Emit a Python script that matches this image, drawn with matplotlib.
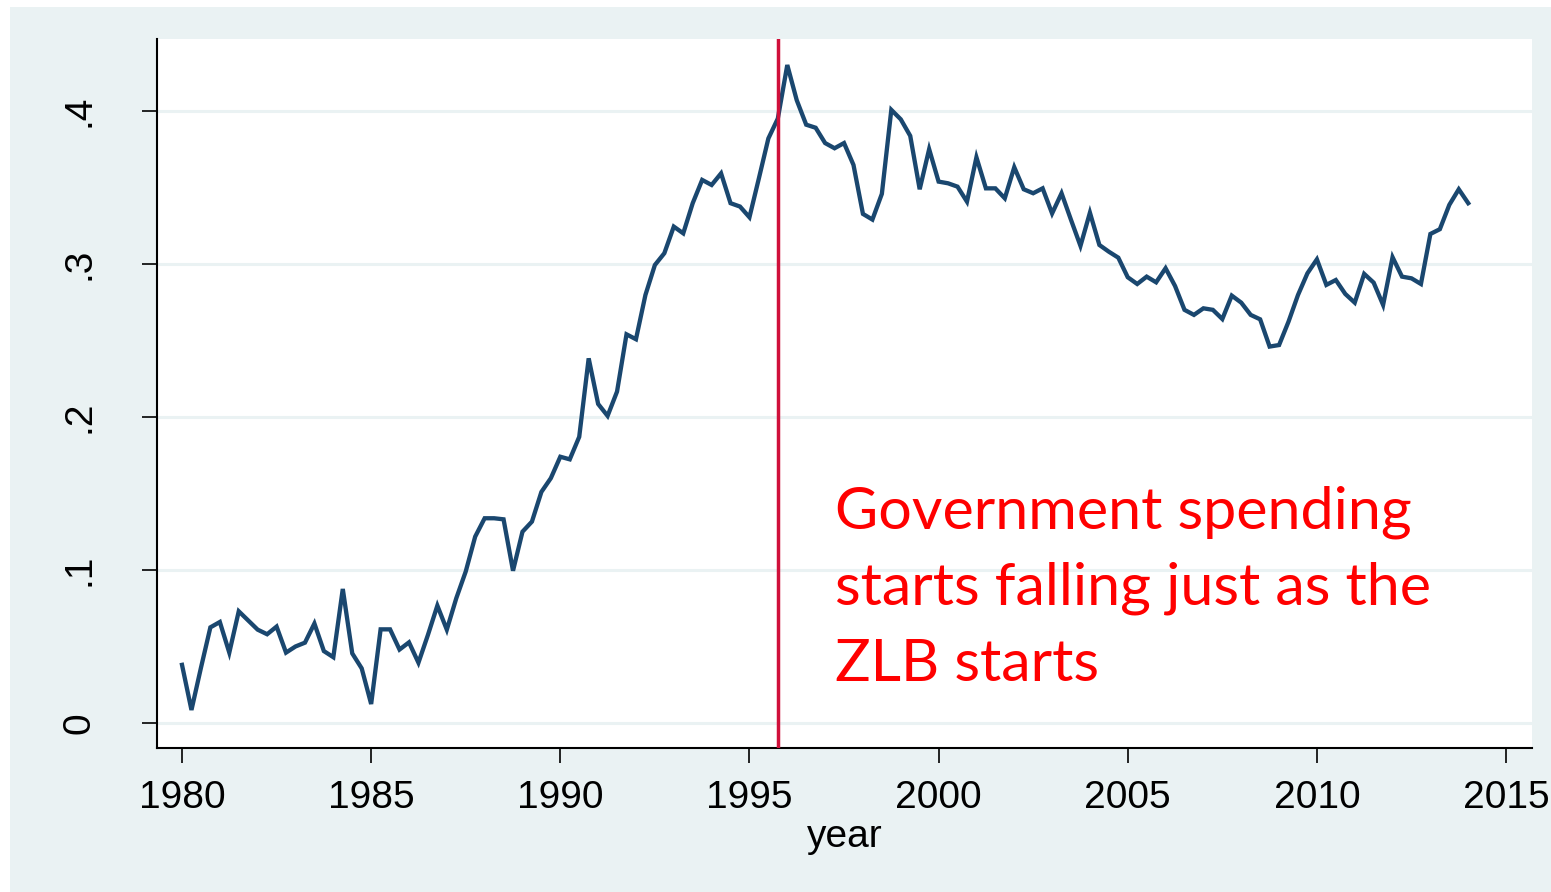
import numpy as np
import matplotlib.pyplot as plt
from matplotlib.patches import Rectangle

# quarterly values, 1980q1 .. 2014q1
share = [
    0.038, 0.0085, 0.036, 0.0625,
    0.066, 0.046, 0.073, 0.067,
    0.061, 0.058, 0.063, 0.046,
    0.050, 0.0525, 0.065, 0.047,
    0.043, 0.0876, 0.0455, 0.0357,
    0.0124, 0.0612, 0.0612, 0.048,
    0.0527, 0.0394, 0.0575, 0.0767,
    0.061, 0.0815, 0.099, 0.1218,
    0.1338, 0.1338, 0.1331, 0.0995,
    0.125, 0.1316, 0.151, 0.160,
    0.174, 0.1723, 0.187, 0.2383,
    0.2085, 0.2007, 0.2166, 0.254,
    0.2508, 0.2797, 0.2993, 0.307,
    0.3244, 0.320, 0.3397, 0.3549,
    0.3516, 0.3592, 0.3397, 0.3375,
    0.3305, 0.356, 0.382, 0.395,
    0.430, 0.407, 0.391, 0.389,
    0.379, 0.3756, 0.379, 0.3647,
    0.3327, 0.329, 0.3458, 0.4007,
    0.3945, 0.3837, 0.3488, 0.375,
    0.3538, 0.3527, 0.3505, 0.3407,
    0.3697, 0.3494, 0.3494, 0.3429,
    0.3632, 0.3488, 0.3462, 0.3494,
    0.333, 0.3462, 0.3288, 0.3118,
    0.3335, 0.3124, 0.308, 0.3041,
    0.2913, 0.2869, 0.2917, 0.288,
    0.2972, 0.2856, 0.270, 0.2667,
    0.271, 0.270, 0.264, 0.2793,
    0.2747, 0.2667, 0.2638, 0.246,
    0.247, 0.2623, 0.2797, 0.2939,
    0.303, 0.2863, 0.2895, 0.2804,
    0.2747, 0.2935, 0.2878, 0.2732,
    0.3044, 0.2917, 0.2906, 0.2869,
    0.3196, 0.3227, 0.3386, 0.3488,
    0.3397,
]
year = 1980 + np.arange(len(share)) / 4.0

zlb_start = 1995.75
xticks = [1980, 1985, 1990, 1995, 2000, 2005, 2010, 2015]
yticks = [0, 0.1, 0.2, 0.3, 0.4]
ytick_labels = ["0", ".1", ".2", ".3", ".4"]
note = "Government spending\nstarts falling just as the\nZLB starts"

bg = "#EAF2F3"
W, H = 1551, 892

fig = plt.figure(figsize=(W / 100, H / 100), dpi=100)
fig.patch.set_facecolor("white")
fig.patches.append(Rectangle((10 / W, 0), 1, (H - 7) / H, transform=fig.transFigure,
                             facecolor=bg, edgecolor="none", zorder=-10))

ax = fig.add_axes([157 / W, (H - 748) / H, (1532 - 157) / W, (748 - 39) / H])
ax.set_facecolor("white")

ax.plot(year, share, color="#1A476F", lw=3.1, solid_joinstyle="miter", zorder=3)
ax.axvline(zlb_start, color="#D0103A", lw=2.5, zorder=4)

ax.set_xlim(1979.339, 2015.686)
ax.set_ylim(-0.01634, 0.447)

ax.set_xticks(xticks)
ax.set_yticks(yticks)
ax.set_yticklabels(ytick_labels, rotation=90, va="center")
ax.grid(axis="y", color=bg, lw=2.2, zorder=1)
ax.grid(axis="x", visible=False)

for s in ["top", "right"]:
    ax.spines[s].set_visible(False)
for s in ["left", "bottom"]:
    ax.spines[s].set_linewidth(1.5)
    ax.spines[s].set_color("black")

ax.tick_params(axis="both", length=11, width=1.2, labelsize=28,
               labelfontfamily="Liberation Sans")
ax.tick_params(axis="x", pad=12)
ax.tick_params(axis="y", pad=32)

ax.set_xlabel("year", fontsize=28, family="Liberation Sans", labelpad=2)

# last line's baseline sits at y=681 px from the top
ax.text(835, H - 681, note, transform=None, color="#FF0000", fontsize=42.7,
        family="Lato", linespacing=1.53, va="baseline", ha="left")

fig.savefig("out.png", dpi=100)
